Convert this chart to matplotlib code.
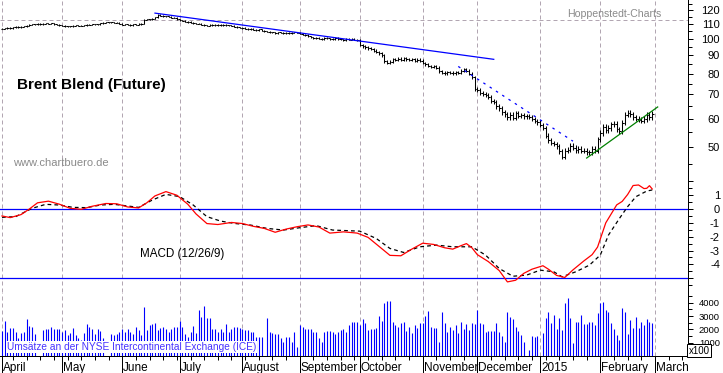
import numpy as np
import pandas as pd
import matplotlib
matplotlib.use("Agg")
import matplotlib.pyplot as plt
import matplotlib.transforms as mtransforms
from matplotlib.ticker import NullFormatter

plt.rcParams['font.family'] = ['Liberation Sans', 'DejaVu Sans']

W, H = 723, 373

# weekdays shown on the time axis (data runs to end of February)
days = pd.bdate_range('2014-04-01', '2015-03-20')
n_bars = 239

# daily closes, USD per barrel
close = [
    # April
    106.5, 106.8, 107.2, 107.0, 107.4, 107.8, 107.6, 108.0, 108.3, 108.6, 109.2,
    109.8, 109.6, 110.0, 109.7, 110.1, 110.4, 109.8, 110.2, 109.5, 109.4, 108.8,
    # May
    108.6, 108.3, 108.4, 108.1, 108.5, 108.9, 108.7, 108.6, 108.9, 109.2, 109.4,
    109.6, 109.8, 109.7, 110.3, 110.8, 111.0, 111.2, 111.0, 110.8, 110.6, 109.9,
    # June
    109.2, 109.6, 109.3, 109.0, 109.5, 109.4, 109.8, 110.0, 112.8, 113.3, 113.0,
    113.6, 114.5, 116.5, 115.6, 115.2, 115.5, 115.0, 114.2, 114.3, 113.3,
    # July
    112.4, 112.0, 111.5, 111.2, 110.6, 110.3, 109.9, 110.0, 109.4, 109.0, 108.6,
    109.3, 109.0, 109.4, 109.1, 108.9, 109.3, 109.0, 108.8, 108.5, 108.0, 107.5, 107.2,
    # August
    107.0, 106.6, 106.2, 106.4, 105.8, 105.5, 106.0, 105.3, 104.8, 104.5, 104.0,
    104.2, 103.7, 104.0, 103.8, 103.5, 103.9, 103.6, 103.8, 104.2, 103.9,
    # September
    103.2, 102.6, 102.3, 101.5, 100.8, 100.4, 100.5, 100.0, 99.6, 100.3, 100.2,
    99.7, 99.5, 100.6, 99.8, 99.6, 99.2, 99.7, 99.4, 99.9, 99.3, 98.9,
    # October
    96.0, 95.2, 94.6, 94.0, 93.5, 92.5, 91.8, 91.0, 89.8, 86.5, 85.6,
    86.2, 87.8, 87.3, 88.0, 87.5, 88.2, 87.6, 87.2, 87.8, 86.8, 87.3, 86.9,
    # November
    85.5, 84.8, 84.0, 83.6, 83.8, 83.0, 81.2, 80.5, 80.2, 80.8,
    80.5, 80.2, 80.6, 80.4, 81.4, 82.2, 81.4, 79.8, 78.2, 72.3,
    # December
    72.0, 70.6, 70.2, 69.8, 69.0, 67.2, 66.5, 64.8, 64.0, 62.4, 61.6, 60.4,
    61.5, 60.2, 62.0, 61.0, 61.2, 60.8, 60.8, 60.5, 59.8, 59.0, 58.5,
    # January
    57.5, 56.4, 53.8, 52.2, 51.3, 51.0, 50.2, 48.6, 47.0, 48.8, 49.2,
    50.4, 49.8, 49.0, 49.4, 48.8, 48.9, 48.4, 48.3, 49.5, 48.8, 52.6,
    # February
    54.8, 56.9, 55.6, 56.5, 57.8, 57.9, 56.0, 55.3, 58.4, 61.5,
    62.2, 61.6, 60.4, 60.0, 59.6, 59.2, 59.8, 61.4, 60.6, 61.8,
]

# typical daily high-low span per month (Apr .. Feb)
month_range = [1.0, 1.0, 1.2, 1.1, 1.2, 1.4, 2.4, 2.2, 2.6, 2.4, 3.0]

# volume in hundreds of contracts (axis is "x100")
volume = [
    1900, 2650, 1825, 2125, 2075, 1825, 1375, 1700, 1825, 2775, 2275,
    2200, 1625, 0, 0, 1950, 2025, 2025, 2200, 2025, 2025, 2025,
    1825, 1950, 1575, 1700, 2125, 1575, 1375, 1200, 1700, 2400, 2200,
    2025, 1625, 2025, 1875, 1375, 0, 0, 1625, 1575, 1625, 1825,
    2025, 1825, 2025, 1825, 1625, 2200, 1950, 1575, 3650, 1950, 2325,
    2375, 2450, 1950, 2125, 2200, 2025, 1825, 2025, 2200, 2200,
    2625, 2200, 1625, 1450, 1825, 2275, 1700, 3450, 2950, 3750, 2875,
    2875, 2025, 2025, 1825, 2025, 1825, 2400, 1825, 2025, 2200, 2200, 2075,
    2025, 1950, 1950, 1825, 1825, 1450, 1450, 1450, 0, 2875, 1825,
    1700, 1625, 1625, 1325, 1075, 1450, 1450, 1075, 1825, 700,
    2325, 2200, 2025, 2025, 2025, 1825, 1825, 1325, 1075, 1825, 1875,
    1875, 1825, 1625, 1825, 1950, 2025, 1825, 2325, 2575, 2575, 2525,
    2325, 2750, 2450, 1950, 2000, 2000, 2075, 3000, 2650, 3950, 4150,
    4150, 2575, 2325, 2200, 2500, 2550, 1900, 2200, 1700, 2325, 2125, 2450,
    2500, 3000, 3400, 2200, 2075, 2075, 1075, 3325, 2500, 1825,
    2200, 1950, 2325, 1700, 2575, 2000, 2400, 1950, 2450, 2400,
    3450, 2500, 2400, 1825, 1900, 1900, 1900, 2500, 1825, 1500, 1075, 3300,
    2950, 2750, 2200, 1900, 1575, 1075, 0, 450, 1500, 1450, 1500,
    0, 1700, 2875, 3325, 2450, 3075, 2000, 2825, 1950, 3975, 4325,
    2875, 1000, 2575, 2575, 3075, 2400, 2400, 2550, 2575, 2300, 3250,
    3950, 4075, 3450, 3325, 2500, 2050, 1600, 1200, 3575, 3325,
    1675, 2700, 2125, 2950, 2125, 2575, 2325, 2750, 2550, 2500,
]

# MACD (12/26/9) line and signal, read at bar indices
macd_days = [0, 3, 7, 10, 13, 17, 21, 25, 29, 33, 38, 42, 46, 50, 53, 56, 60, 64,
             68, 71, 75, 79, 84, 88, 92, 96, 100, 104, 108, 112, 116, 120, 125, 130,
             134, 138, 142, 146, 150, 154, 158, 162, 165, 168, 170, 172, 174, 178,
             182, 185, 188, 191, 194, 198, 200, 203, 206, 209, 213, 216, 218, 221,
             223, 225, 227, 229, 231, 233, 235, 236, 237, 238]
macd_vals = [-0.5, -0.62, -0.4, 0.0, 0.45, 0.57, 0.35, 0.05, -0.02, 0.2, 0.4, 0.38,
             0.15, 0.08, 0.45, 0.95, 1.26, 1.0, 0.35, -0.35, -1.05, -1.12, -0.97,
             -1.05, -1.25, -1.4, -1.68, -1.45, -1.28, -1.15, -1.3, -1.74, -1.65, -1.74,
             -2.05, -2.7, -3.35, -3.38, -2.9, -2.47, -2.56, -2.8, -2.9, -2.65, -2.5,
             -2.8, -3.3, -3.8, -4.45, -5.27, -5.15, -4.65, -4.35, -4.1, -4.35, -4.8,
             -4.95, -4.4, -3.75, -3.3, -2.75, -1.0, -0.35, 0.3, 0.55, 1.05, 1.7, 1.74,
             1.48, 1.5, 1.69, 1.45]
signal_days = [0, 5, 11, 16, 21, 26, 31, 36, 41, 46, 50, 55, 60, 65, 70, 75, 80, 85,
               91, 97, 103, 109, 115, 121, 131, 137, 142, 147, 153, 159, 165, 172,
               177, 182, 187, 192, 197, 202, 205, 210, 215, 219, 222, 226, 229, 232,
               236, 238]
signal_vals = [-0.6, -0.55, 0.05, 0.34, 0.29, 0.12, 0.1, 0.29, 0.34, 0.22, 0.12, 0.65,
               1.06, 0.9, 0.29, -0.55, -0.87, -1.04, -1.16, -1.4, -1.52, -1.35, -1.2,
               -1.52, -1.6, -2.13, -2.85, -3.14, -2.73, -2.61, -2.73, -2.73, -3.33, -4.3,
               -4.86, -4.78, -4.42, -4.54, -4.9, -4.54, -4.06, -3.33, -1.88, -0.68, 0.17,
               0.89, 1.3, 1.38]

# trend lines drawn on the price chart (bar index, price)
trend_top_days, trend_top_px = [56, 180], [117.7, 87.6]
trend_down_days, trend_down_px = [167, 209], [83.7, 51.9]
trend_up_days, trend_up_px = [214, 240], [46.6, 64.6]
resist_level = 112.7

month_names = ['April', 'May', 'June', 'July', 'August', 'September', 'October',
               'November', 'December', '2015', 'February', 'March']
price_ticks = [50, 60, 70, 80, 90, 100, 110, 120]
price_minor = [45, 55, 65, 75, 85, 95, 105, 115, 125]
macd_ticks = [2, 1, 0, -1, -2, -3, -4, -5]
macd_labels = ['', '1', '0', '-1', '-2', '-3', '-4', '']
vol_ticks = [1000, 2000, 3000, 4000]

GRID = '#b2a6b2'
BLUE = '#0000ff'

x = np.arange(n_bars)
c = np.array(close)
o = np.r_[c[0], c[:-1]]
month_starts = [0] + [i for i in range(1, len(days)) if days[i].month != days[i - 1].month]
mondays = [i for i, d in enumerate(days) if d.weekday() == 0]
bar_month = np.searchsorted(month_starts, x, side='right') - 1
r = np.array(month_range)[bar_month]
hi = np.maximum(o, c) + r / 3
lo = np.minimum(o, c) - r / 3

fig = plt.figure(figsize=(W / 100, H / 100), dpi=100)
right = 688 / W
ax1 = fig.add_axes([0, 1 - 180 / H, right, 180 / H])
ax2 = fig.add_axes([0, 1 - 292 / H, right, 112 / H], sharex=ax1)
ax3 = fig.add_axes([0, 1 - 356 / H, right, 64 / H], sharex=ax1)

for ax in (ax1, ax2, ax3):
    for m in month_starts:
        ax.axvline(m, color=GRID, lw=0.72, ls=(0, (4, 3)), zorder=0)
    ax.spines['top'].set_visible(False)
    ax.spines['left'].set_visible(False)
    ax.spines['right'].set_linewidth(0.72)
    ax.spines['bottom'].set_linewidth(0.72)
    ax.yaxis.tick_right()
    ax.tick_params(axis='y', which='both', direction='out', width=0.72, colors='black')
    ax.tick_params(axis='y', which='major', length=3.6, pad=19.4)
    ax.tick_params(axis='y', which='minor', length=2.6)
    ax.set_facecolor('white')

ax1.set_xlim(-0.73, 251.1)
ax1.tick_params(axis='x', which='both', bottom=False, labelbottom=False)
ax2.tick_params(axis='x', which='both', bottom=False, labelbottom=False)

# price panel
ax1.set_yscale('log')
ax1.set_ylim(40.5, 128)
ax1.axhline(resist_level, color=GRID, lw=0.72, ls=(0, (4, 3)), zorder=0)
ax1.vlines(x, lo, hi, color='black', lw=0.75)
ax1.hlines(o, x - 0.5, x, color='black', lw=0.75)
ax1.hlines(c, x, x + 0.5, color='black', lw=0.75)
ax1.plot(trend_top_days, trend_top_px, color=BLUE, lw=0.9)
ax1.plot(trend_down_days, trend_down_px, color=BLUE, lw=0.9, ls=(0, (2, 4)))
ax1.plot(trend_up_days, trend_up_px, color='#008000', lw=0.9)
ax1.set_yticks(price_ticks)
ax1.set_yticklabels([str(v) for v in price_ticks])
ax1.set_yticks(price_minor, minor=True)
ax1.yaxis.set_minor_formatter(NullFormatter())
ax1.tick_params(axis='y', labelsize=8)

# MACD panel
ax2.set_ylim(-6.0, 2.1)
ax2.axhline(0, color=BLUE, lw=0.9)
ax2.axhline(-5, color=BLUE, lw=0.9)
ax2.plot(signal_days, signal_vals, color='black', lw=0.9, ls=(0, (3, 2.5)))
ax2.plot(macd_days, macd_vals, color='#ff0000', lw=0.9)
ax2.set_yticks(macd_ticks)
ax2.set_yticklabels(macd_labels)
ax2.set_yticks(np.arange(-5.5, 2.1, 1.0), minor=True)
ax2.tick_params(axis='y', labelsize=8)

# volume panel
ax3.set_ylim(0, 4810)
ax3.vlines(x, 0, volume, color=BLUE, lw=0.8)
ax3.set_yticks(vol_ticks)
ax3.set_yticklabels([str(v) for v in vol_ticks])
ax3.set_yticks([500, 1500, 2500, 3500, 4500], minor=True)
ax3.tick_params(axis='y', labelsize=6.8)
ax3.set_xticks(month_starts)
ax3.set_xticks(mondays, minor=True)
ax3.tick_params(axis='x', which='major', direction='out', length=12.4, width=0.72,
                labelbottom=False)
ax3.tick_params(axis='x', which='minor', direction='out', length=2.6, width=0.72)

for ax in (ax1, ax2, ax3):
    for lbl in ax.get_yticklabels():
        lbl.set_horizontalalignment('right')

blend = mtransforms.blended_transform_factory(ax3.transData, ax3.transAxes)
for m, name in zip(month_starts, month_names):
    ax3.text(m + 0.35, -0.23, name, transform=blend, fontsize=8.5, ha='left',
             va='baseline', clip_on=False)

# captions
fig.text(17 / W, 1 - 85 / H, 'Brent Blend (Future)', fontsize=11, fontweight='bold',
         ha='left', va='center')
fig.text(13 / W, 1 - 163 / H, 'www.chartbuero.de', fontsize=8, color='#8a8a8a',
         ha='left', va='center')
fig.text(567 / W, 1 - 14 / H, 'Hoppenstedt-Charts', fontsize=7.6, color='#8a8a8a',
         ha='left', va='center')
fig.text(140 / W, 1 - 254 / H, 'MACD (12/26/9)', fontsize=8.4, ha='left', va='center')
fig.text(7 / W, 1 - 347 / H, 'Umsätze an der NYSE Intercontinental Exchange (ICE)',
         fontsize=7.3, color='#4632ff', ha='left', va='center', zorder=5,
         bbox=dict(boxstyle='square,pad=0.05', fc='white', ec='none'))
fig.text(699 / W, 1 - 350.5 / H, 'x100', fontsize=7, ha='center', va='center', zorder=5,
         bbox=dict(boxstyle='square,pad=0.12', fc='white', ec='black', lw=0.72))

fig.savefig('out.png', dpi=100)
